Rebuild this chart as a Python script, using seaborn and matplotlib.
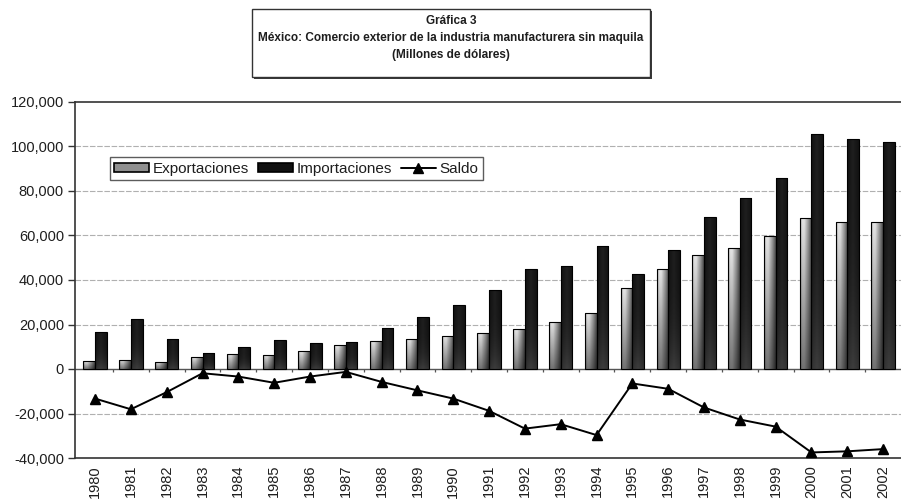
import numpy as np
import pandas as pd
import matplotlib
matplotlib.use("Agg")
import matplotlib.pyplot as plt
from matplotlib.patches import Rectangle, Patch
from matplotlib.lines import Line2D
from matplotlib.ticker import FuncFormatter, MultipleLocator
import seaborn as sns

# Comercio exterior de la industria manufacturera sin maquila (millones de dólares)
years = [str(y) for y in range(1980, 2003)]
exportaciones = [3500, 4100, 3300, 5300, 6800, 6500, 8000, 10600, 12600, 13500,
                 15000, 16400, 17900, 21300, 25300, 36300, 44800, 51200, 54200,
                 59900, 68000, 65900, 65900]
importaciones = [16800, 22300, 13500, 7100, 10100, 12900, 11500, 12000, 18500, 23200,
                 28700, 35400, 44800, 46200, 55200, 42900, 53500, 68500, 77000,
                 86000, 105600, 103200, 101900]
saldo = [-13300, -18100, -10400, -1900, -3400, -6200, -3400, -1300, -5800, -9600,
         -13300, -18800, -26800, -24800, -29700, -6500, -8900, -17300, -22700,
         -25900, -37500, -37000, -36000]
series = ["Exportaciones", "Importaciones", "Saldo"]
title_lines = ["Gráfica 3",
               "México: Comercio exterior de la industria manufacturera sin maquila",
               "(Millones de dólares)"]

sns.set_theme(style="white")
plt.rcParams["font.family"] = ["Liberation Sans", "DejaVu Sans"]
TXT = "#1e1e1e"

df = pd.DataFrame({
    "Año": years * 2,
    "valor": exportaciones + importaciones,
    "serie": [series[0]] * len(years) + [series[1]] * len(years),
})

fig = plt.figure(figsize=(9.01, 5.03), dpi=100)
ax = fig.add_axes([75 / 901, 1 - 458 / 503, 826 / 901, 356 / 503])

sns.barplot(data=df, x="Año", y="valor", hue="serie", order=years,
            hue_order=series[:2], palette=["#b5b5b5", "#111111"],
            width=0.65, edgecolor="black", linewidth=0.8, legend=False,
            errorbar=None, ax=ax, zorder=3)

sns.pointplot(x=years, y=saldo, order=years, color="black", markers="^",
              linestyles="-", linewidth=1.4, markersize=6.5, errorbar=None,
              ax=ax, zorder=6)

ax.set_xlim(-0.56, 22.5)
ax.set_ylim(-40000, 120000)

# gradient fills clipped to each bar
nb = len(years)
bars = [p for p in ax.patches if isinstance(p, Rectangle)][: 2 * nb]
xs = np.linspace(0, 1, 40)
ys = np.linspace(0, 1, 60)[:, None]
prof_exp = np.interp(xs, [0, 0.12, 0.35, 0.7, 1.0], [0.35, 0.88, 0.9, 0.6, 0.3])
grad_exp = prof_exp[None, :] * (0.5 + 0.5 * ys)
prof_imp = np.interp(xs, [0, 0.5, 1.0], [0.07, 0.12, 0.07])
grad_imp = prof_imp[None, :] + 0.12 * (1 - ys) ** 3
for i, p in enumerate(bars):
    x0, w = p.get_x(), p.get_width()
    h = p.get_height()
    y0 = p.get_y()
    g = grad_exp if i < nb else grad_imp
    im = ax.imshow(g, cmap="gray", vmin=0, vmax=1, aspect="auto",
                   extent=(x0, x0 + w, y0, y0 + h), origin="lower",
                   zorder=2.9, interpolation="bilinear")
    im.set_clip_path(p)
    p.set_facecolor("none")
ax.set_xlim(-0.56, 22.5)
ax.set_ylim(-40000, 120000)

# grid, zero line and category ticks
for yv in [-20000, 20000, 40000, 60000, 80000, 100000]:
    ax.axhline(yv, color="#b0b0b0", lw=0.8, ls=(0, (5, 1.5)), zorder=1)
ax.axhline(0, color="#555555", lw=1.0, zorder=2)
ax.vlines(np.arange(0.5, 22.5, 1.0), -1300, 0, color="#555555", lw=0.9, zorder=2)

for s in ["left", "top", "bottom"]:
    ax.spines[s].set_color("#333333")
    ax.spines[s].set_linewidth(1.2)
ax.spines["right"].set_visible(False)

ax.yaxis.set_major_locator(MultipleLocator(20000))
ax.yaxis.set_major_formatter(FuncFormatter(lambda v, _: f"{v:,.0f}"))
ax.tick_params(axis="y", length=5, width=1, color="#333333", pad=3,
               labelsize=10.5, labelcolor=TXT, left=True)
ax.tick_params(axis="x", length=0, pad=5, labelsize=10.5, labelcolor=TXT,
               rotation=90)
ax.set_xlabel("")
ax.set_ylabel("")

handles = [
    Patch(facecolor="#8f8f8f", edgecolor="black", linewidth=1.2),
    Patch(facecolor="#111111", edgecolor="black", linewidth=1.2),
    Line2D([], [], color="black", marker="^", lw=1.4, ms=6.5),
]
leg = ax.legend(handles, series, loc="upper left", bbox_to_anchor=(0.042, 0.845),
                ncol=3, frameon=True, fancybox=False, edgecolor="#333333",
                fontsize=11, handlelength=2.3, handleheight=0.6,
                handletextpad=0.25, columnspacing=0.55, borderpad=0.3,
                borderaxespad=0)
leg.get_frame().set_linewidth(1.0)
for t in leg.get_texts():
    t.set_color(TXT)

# title box with shadow
W, H = 901, 503
bx0, by0, bx1, by1 = 252, 9, 650, 77
fig.add_artist(Rectangle(((bx0 + 2) / W, 1 - (by1 + 2) / H), (bx1 - bx0) / W,
                         (by1 - by0) / H, transform=fig.transFigure,
                         facecolor="#3a3a3a", edgecolor="none", zorder=1))
fig.add_artist(Rectangle((bx0 / W, 1 - by1 / H), (bx1 - bx0) / W, (by1 - by0) / H,
                         transform=fig.transFigure, facecolor="white",
                         edgecolor="#333333", lw=1.0, zorder=2))
for k, line in enumerate(title_lines):
    fig.text(451 / W, 1 - (21 + 17 * k) / H, line, ha="center", va="center",
             fontsize=8.5, fontweight="bold", color=TXT, zorder=3)

fig.savefig("out.png", dpi=100, facecolor="white")
